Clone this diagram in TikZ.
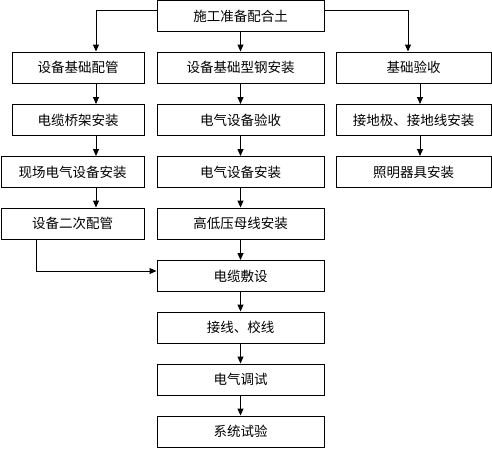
\documentclass[tikz,border=0pt]{standalone}
\usepackage{fontspec}
\setmainfont{Noto Sans CJK SC}
\usetikzlibrary{arrows.meta}
\tikzset{stepbox/.style={draw,line width=1pt,minimum height=31pt,inner sep=0pt,font=\fontsize{13.5}{16}\selectfont},
flow/.style={line width=1pt,-{Triangle[width=6pt,length=7pt]}}}
\newcommand{\procbox}[5]{\node[stepbox,minimum width=#4] (#1) at (#2,#3) {#5};}

\begin{document}
\begin{tikzpicture}[x=1pt,y=-1pt]
\useasboundingbox (0,0) rectangle (492,448);
\procbox{top}{240.5}{16}{167pt}{施工准备配合土}
\procbox{lb1}{78}{67.5}{132pt}{设备基础配管}
\procbox{lb2}{78}{120}{132pt}{电缆桥架安装}
\procbox{lb3}{72.5}{172}{143pt}{现场电气设备安装}
\procbox{lb4}{72.5}{223.5}{143pt}{设备二次配管}
\procbox{mb1}{240.5}{67.5}{167pt}{设备基础型钢安装}
\procbox{mb2}{240.5}{120}{167pt}{电气设备验收}
\procbox{mb3}{240.5}{172}{167pt}{电气设备安装}
\procbox{mb4}{240.5}{223.5}{167pt}{高低压母线安装}
\procbox{mb5}{240.5}{276}{167pt}{电缆敷设}
\procbox{mb6}{240.5}{327.5}{167pt}{接线、校线}
\procbox{mb7}{240.5}{379.5}{167pt}{电气调试}
\procbox{mb8}{240.5}{431.5}{167pt}{系统试验}
\procbox{rb1}{413.5}{67.5}{155pt}{基础验收}
\procbox{rb2}{413.5}{120}{155pt}{接地极、接地线安装}
\procbox{rb3}{413.5}{172}{155pt}{照明器具安装}
\coordinate (lcol) at (96,0);
\coordinate (lcol2) at (36,0);
\coordinate (rcol) at (408,0);
\coordinate (rcol2) at (420,0);
\draw[flow] ([yshift=5.5pt]top.west) -| (lb1.north -| lcol);
\draw[flow] ([yshift=5.5pt]top.east) -| (rb1.north -| rcol);
\draw[flow] (top.south) -- (mb1.north);
\draw[flow] (lb1.south -| lcol) -- (lb2.north -| lcol);
\draw[flow] (lb2.south -| lcol) -- (lb3.north -| lcol);
\draw[flow] (lb3.south -| lcol) -- (lb4.north -| lcol);
\draw[flow] (lb4.south -| lcol2) |- ([yshift=5pt]mb5.west);
\draw[flow] (mb1.south) -- (mb2.north);
\draw[flow] (mb2.south) -- (mb3.north);
\draw[flow] (mb3.south) -- (mb4.north);
\draw[flow] (mb4.south) -- (mb5.north);
\draw[flow] (mb5.south) -- (mb6.north);
\draw[flow] (mb6.south) -- (mb7.north);
\draw[flow] (mb7.south) -- (mb8.north);
\draw[flow] (rb1.south -| rcol2) -- (rb2.north -| rcol2);
\draw[flow] (rb2.south -| rcol2) -- (rb3.north -| rcol2);
\end{tikzpicture}
\end{document}
